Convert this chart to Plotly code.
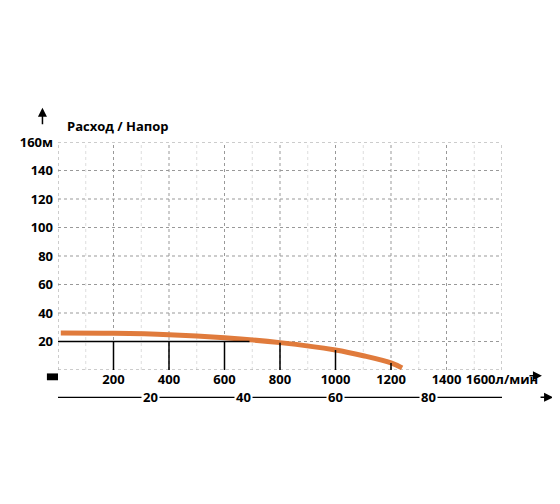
import plotly.graph_objects as go

flow = [10, 200, 400, 600, 800, 1000, 1100, 1200, 1240]
head = [26, 25.8, 24.8, 22.6, 19.2, 14, 10, 5, 1.5]
xticks = [200, 400, 600, 800, 1000, 1200, 1400, 1600]
xlabels = ["200", "400", "600", "800", "1000", "1200", "1400", "1600л/мин"]
yticks = [20, 40, 60, 80, 100, 120, 140, 160]
ylabels = ["20", "40", "60", "80", "100", "120", "140", "160м"]
m3h = [20, 40, 60, 80, 100]
stem_x = [200, 400, 600, 800, 1000, 1200]
stem_top = [20, 20, 20, 19.2, 14, 5]

F = "Open Sans"
fig = go.Figure()
fig.add_trace(go.Scatter(x=flow, y=head, mode="lines", line=dict(color="#e07b3c", width=5, shape="spline"), hoverinfo="skip"))

shapes = []
for v in range(100, 1600, 200):
    shapes.append(dict(type="line", xref="x", yref="y", x0=v, x1=v, y0=0, y1=160, line=dict(color="#dddddd", width=1, dash="dot"), layer="below"))
for v in range(200, 1601, 200):
    shapes.append(dict(type="line", xref="x", yref="y", x0=v, x1=v, y0=0, y1=160, line=dict(color="#999999", width=1, dash="dot"), layer="below"))
for v in yticks:
    shapes.append(dict(type="line", xref="x", yref="y", x0=0, x1=1600, y0=v, y1=v, line=dict(color="#999999", width=1, dash="dot"), layer="below"))
shapes.append(dict(type="line", xref="x", yref="y", x0=0, x1=0, y0=0, y1=160, line=dict(color="#999999", width=1, dash="dot"), layer="below"))
shapes.append(dict(type="line", xref="x", yref="y", x0=0, x1=1600, y0=0, y1=0, line=dict(color="#999999", width=1, dash="dot"), layer="below"))
shapes.append(dict(type="line", xref="x", yref="y", x0=0, x1=690, y0=20, y1=20, line=dict(color="black", width=1.5)))
for sx, st in zip(stem_x, stem_top):
    shapes.append(dict(type="line", xref="x", yref="y", x0=sx, x1=sx, y0=0, y1=st, line=dict(color="black", width=1.5)))
shapes.append(dict(type="line", xref="x", yref="paper", x0=0, x1=1630, y0=-0.12, y1=-0.12, line=dict(color="black", width=1.2)))
for v in m3h:
    shapes.append(dict(type="line", xref="x", yref="paper", x0=v * 50 / 3, x1=v * 50 / 3, y0=-0.085, y1=-0.105, line=dict(color="black", width=1.2)))
shapes.append(dict(type="rect", xref="paper", yref="paper", x0=-0.025, x1=0.0, y0=-0.015, y1=-0.045, fillcolor="black", line=dict(width=0)))

ann = []
for v in m3h:
    ann.append(dict(x=v * 50 / 3, y=-0.12, xref="x", yref="paper", text="<b>%d</b>" % v, showarrow=False, bgcolor="white", font=dict(family=F, size=13, color="black"), xanchor="center", yanchor="middle"))
ann.append(dict(x=1610, y=-0.12, xref="x", yref="paper", text="<b>м3/ч</b>", showarrow=False, bgcolor="white", font=dict(family=F, size=11, color="black"), xanchor="left", yanchor="middle"))
ann.append(dict(x=0.015, y=1.07, xref="paper", yref="paper", text="<b>Расход / Напор</b>", showarrow=False, font=dict(family=F, size=13, color="black"), xanchor="left", yanchor="middle"))
ann.append(dict(x=-0.035, y=1.15, ax=0, ay=18, xref="paper", yref="paper", text="", showarrow=True, arrowhead=2, arrowsize=1.2, arrowwidth=1.5, arrowcolor="black"))
ann.append(dict(x=1.09, y=-0.025, ax=-14, ay=0, xref="paper", yref="paper", text="", showarrow=True, arrowhead=2, arrowsize=1.2, arrowwidth=1.5, arrowcolor="black"))
ann.append(dict(x=1.115, y=-0.12, ax=-14, ay=0, xref="paper", yref="paper", text="", showarrow=True, arrowhead=2, arrowsize=1.2, arrowwidth=1.5, arrowcolor="black"))

fig.update_layout(
    width=560, height=504, margin=dict(l=38, r=66, t=134, b=142),
    plot_bgcolor="white", paper_bgcolor="white", showlegend=False,
    shapes=shapes, annotations=ann,
    xaxis=dict(range=[0, 1600], tickvals=xticks, ticktext=["<b>%s</b>" % t for t in xlabels], showgrid=False, zeroline=False, showline=False, ticks="", tickfont=dict(family=F, size=13, color="black")),
    yaxis=dict(range=[0, 160], tickvals=yticks, ticktext=["<b>%s</b>" % t for t in ylabels], showgrid=False, zeroline=False, showline=False, ticks="", ticklabelstandoff=4, tickfont=dict(family=F, size=13, color="black")),
)
fig.write_html("out.html")
